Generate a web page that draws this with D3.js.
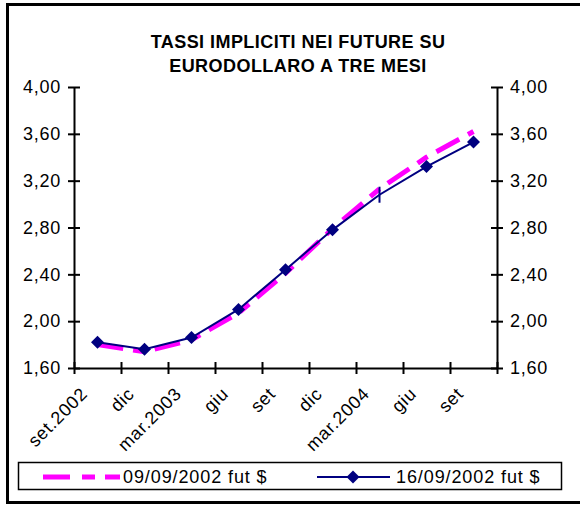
<!DOCTYPE html>
<html>
<head>
<meta charset="utf-8">
<script src="https://cdn.jsdelivr.net/npm/d3@7"></script>
<style>
  body { margin: 0; background: #fff; }
  svg { display: block; font-family: Arial, "Liberation Sans", sans-serif; }
</style>
</head>
<body>
<div id="vis"></div>
<script>
var titleLines = ["TASSI IMPLICITI NEI FUTURE SU", "EURODOLLARO A TRE MESI"];
var months = ["set.2002", "dic", "mar.2003", "giu", "set", "dic", "mar.2004", "giu", "set"];
var fut0909 = [1.80, 1.74, 1.84, 2.07, 2.41, 2.79, 3.13, 3.40, 3.62];
var fut1609 = [1.82, 1.76, 1.86, 2.10, 2.44, 2.78, 3.08, 3.32, 3.53];
var yTicks = [1.6, 2.0, 2.4, 2.8, 3.2, 3.6, 4.0];
var seriesNames = ["09/09/2002 fut $", "16/09/2002 fut $"];

var width = 580, height = 506;
var plot = {left: 74, right: 497, top: 87, bottom: 368};

var it = d3.formatLocale({decimal: ",", thousands: ".", grouping: [3], currency: ["", "€"]});
var fmt = it.format(".2f");

var svg = d3.select("#vis").append("svg")
    .attr("width", width)
    .attr("height", height);

// outer frame (right edge falls outside the picture)
svg.append("rect")
    .attr("x", 7.5).attr("y", 4.5)
    .attr("width", 600).attr("height", 498)
    .attr("fill", "#fff")
    .attr("stroke", "#000")
    .attr("stroke-width", 3);

var x = d3.scaleLinear()
    .domain([0, months.length])
    .range([plot.left, plot.right]);
var y = d3.scaleLinear()
    .domain([1.6, 4.0])
    .range([plot.bottom, plot.top]);

// title
svg.append("g").selectAll("text")
    .data(titleLines)
    .enter().append("text")
    .attr("x", 298)
    .attr("y", function(d, i) { return 48 + i * 24; })
    .attr("text-anchor", "middle")
    .attr("font-size", "18px")
    .attr("font-weight", "bold")
    .attr("letter-spacing", "0.45px")
    .text(function(d) { return d; });

function styleAxis(g) {
  g.select(".domain").attr("stroke-width", 2);
  g.selectAll(".tick line").attr("stroke-width", 2);
  g.selectAll(".tick text")
    .attr("font-size", "18px")
    .attr("letter-spacing", "0.75px")
    .attr("fill", "#000");
}

var yLeft = svg.append("g")
    .attr("transform", "translate(" + plot.left + ",0)")
    .call(d3.axisLeft(y).tickValues(yTicks).tickFormat(fmt).tickSize(6).tickSizeOuter(0).tickPadding(7));
yLeft.selectAll(".tick line").attr("x1", 6);
styleAxis(yLeft);

var yRight = svg.append("g")
    .attr("transform", "translate(" + plot.right + ",0)")
    .call(d3.axisRight(y).tickValues(yTicks).tickFormat(fmt).tickSize(6).tickSizeOuter(0).tickPadding(7));
yRight.selectAll(".tick line").attr("x1", -6);
styleAxis(yRight);

var xAxis = svg.append("g")
    .attr("transform", "translate(0," + plot.bottom + ")")
    .call(d3.axisBottom(x).tickValues(d3.range(months.length + 1)).tickFormat("").tickSize(6).tickSizeOuter(0));
xAxis.selectAll(".tick line").attr("y1", -6);
styleAxis(xAxis);

// rotated category labels
svg.append("g").selectAll("text")
    .data(months)
    .enter().append("text")
    .attr("transform", function(d, i) {
      return "translate(" + (x(i + 0.5) - 9) + "," + (plot.bottom + 27) + ") rotate(-45)";
    })
    .attr("text-anchor", "end")
    .attr("font-size", "18px")
    .attr("letter-spacing", "0.75px")
    .text(function(d) { return d; });

var line = d3.line()
    .x(function(d, i) { return x(i + 0.5); })
    .y(function(d) { return y(d); });

svg.append("path")
    .datum(fut0909)
    .attr("fill", "none")
    .attr("stroke", "#ff00ff")
    .attr("stroke-width", 5)
    .attr("stroke-dasharray", "26,10,12,10")
    .attr("d", line);

svg.append("path")
    .datum(fut1609)
    .attr("fill", "none")
    .attr("stroke", "#000080")
    .attr("stroke-width", 2)
    .attr("d", line);

var diamond = "M0,-6.5L6.5,0L0,6.5L-6.5,0Z";

svg.append("g").selectAll("path")
    .data(fut1609)
    .enter().append("path")
    .attr("transform", function(d, i) { return "translate(" + x(i + 0.5) + "," + y(d) + ")"; })
    // the mar.2004 point shows only as a short bar in the original
    .attr("d", function(d, i) { return i === 6 ? "M-1,-8L1,-8L1,8L-1,8Z" : diamond; })
    .attr("fill", "#000080");

// legend
var legend = svg.append("g");
legend.append("rect")
    .attr("x", 18.5).attr("y", 462.5)
    .attr("width", 543).attr("height", 27)
    .attr("fill", "#fff")
    .attr("stroke", "#000")
    .attr("stroke-width", 1.5);

legend.append("line")
    .attr("x1", 43).attr("x2", 120)
    .attr("y1", 477).attr("y2", 477)
    .attr("stroke", "#ff00ff")
    .attr("stroke-width", 5)
    .attr("stroke-dasharray", "27,12,13,10");

legend.append("line")
    .attr("x1", 317).attr("x2", 390)
    .attr("y1", 477).attr("y2", 477)
    .attr("stroke", "#000080")
    .attr("stroke-width", 2);

legend.append("path")
    .attr("transform", "translate(353,477)")
    .attr("d", diamond)
    .attr("fill", "#000080");

legend.selectAll("text")
    .data(seriesNames)
    .enter().append("text")
    .attr("x", function(d, i) { return i === 0 ? 123 : 396; })
    .attr("y", 483)
    .attr("font-size", "18px")
    .attr("letter-spacing", "0.9px")
    .text(function(d) { return d; });
</script>
</body>
</html>
